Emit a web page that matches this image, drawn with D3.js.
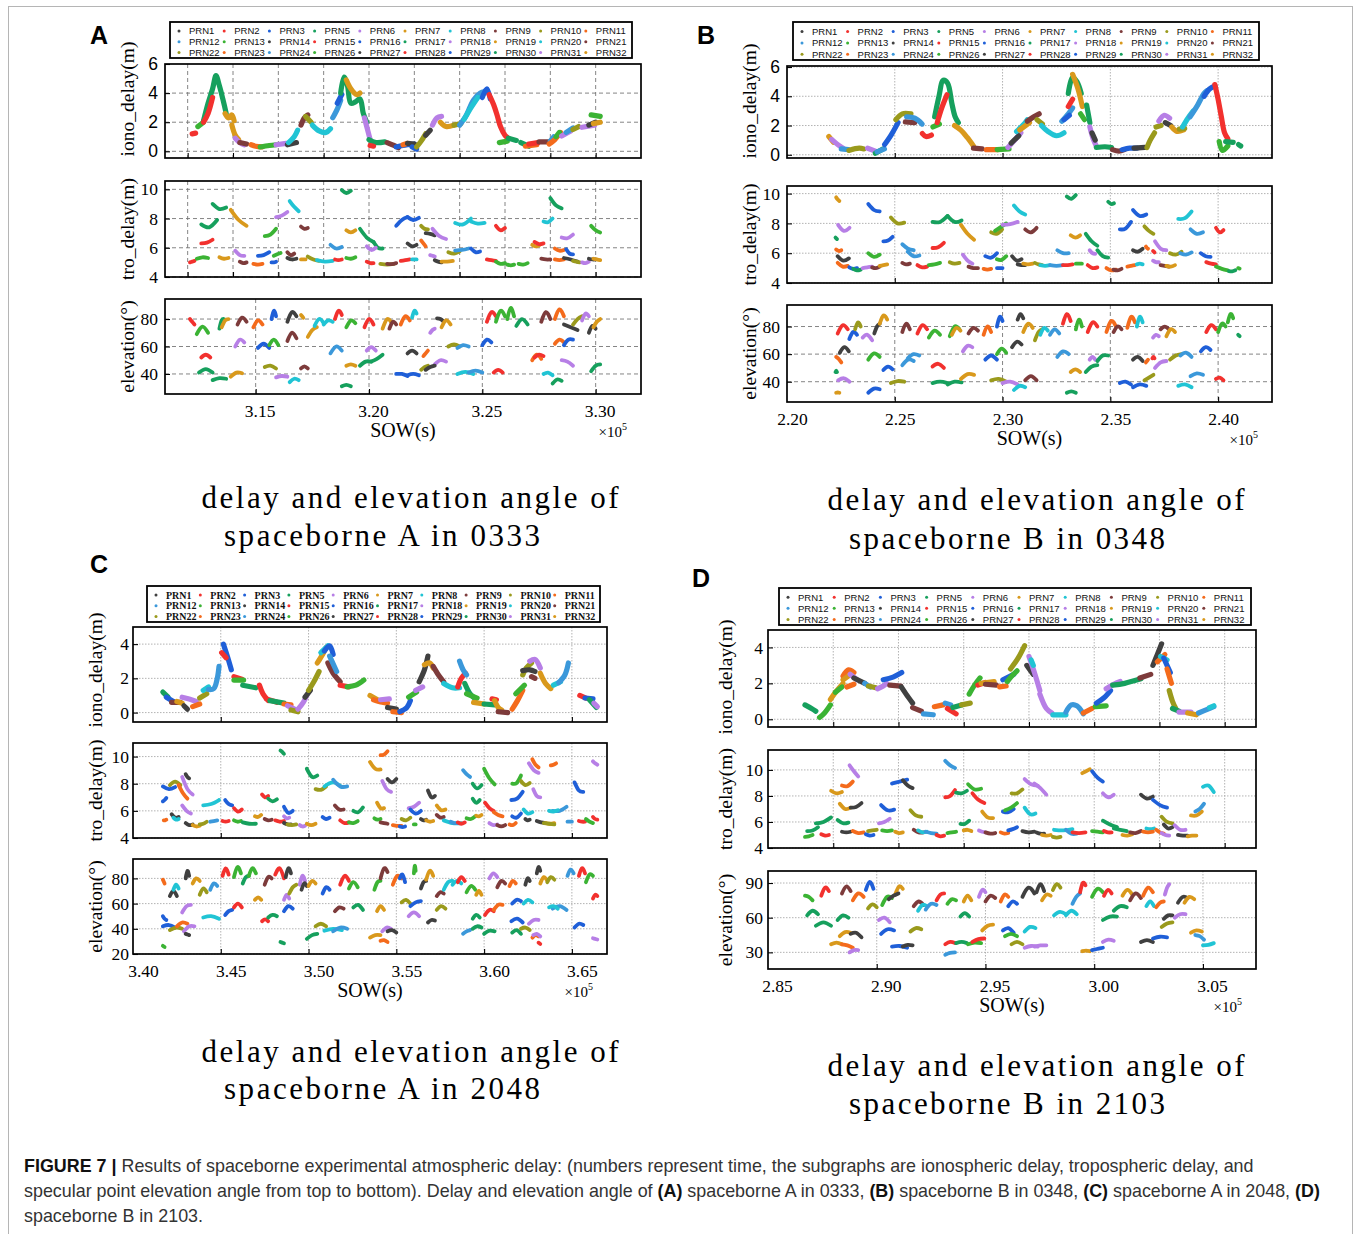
<!DOCTYPE html>
<html>
<head>
<meta charset="utf-8">
<script src="https://cdn.jsdelivr.net/npm/d3@7"></script>
<style>
  body { margin: 0; background: #fff; }
</style>
</head>
<body>
<div id="chart"></div>
<script>
// ---------- data (SOW in units of 1e5 s) ----------
const colors = ["#404040", "#f2312e", "#1f5fd8", "#16a05d", "#b77fe6", "#d9991c",
                "#21c4d4", "#7d3b3b", "#9a9a1c", "#f46b1c", "#3b98da", "#3bb334"];
const prnLabels = ["PRN1","PRN2","PRN3","PRN5","PRN6","PRN7","PRN8","PRN9","PRN10","PRN11",
                   "PRN12","PRN13","PRN14","PRN15","PRN16","PRN17","PRN18","PRN19","PRN20","PRN21",
                   "PRN22","PRN23","PRN24","PRN26","PRN27","PRN28","PRN29","PRN30","PRN31","PRN32"];

// iono: [colour, [[sow, delay], ...]]   tro / elev arcs: [colour, sowStart, sowEnd, vStart, vMid, vEnd]
const ionoA = [
  [1,[[3.122,1.2],[3.1235,1.25]]], [11,[[3.1245,1.7],[3.127,2.0]]],
  [3,[[3.127,2.1],[3.129,3.3],[3.131,4.3],[3.1325,5.2],[3.134,4.5],[3.1355,3.6],[3.137,2.6]]],
  [1,[[3.127,2.0],[3.129,2.6],[3.131,3.7]]], [5,[[3.1365,2.6],[3.138,2.3],[3.1395,2.5],[3.1405,2.1]]],
  [5,[[3.1395,1.8],[3.141,1.1],[3.1425,0.8]]], [4,[[3.141,0.9],[3.143,0.6],[3.145,0.45]]],
  [7,[[3.143,0.6],[3.146,0.5]]], [9,[[3.148,0.45],[3.150,0.35],[3.153,0.3]]],
  [11,[[3.152,0.3],[3.156,0.4],[3.159,0.45]]], [4,[[3.159,0.45],[3.1635,0.55]]],
  [0,[[3.164,0.45],[3.168,0.6]]], [6,[[3.1645,0.6],[3.167,1.0],[3.1685,1.45]]],
  [7,[[3.170,1.8],[3.1715,2.3],[3.173,2.5]]], [8,[[3.172,2.4],[3.1745,2.0]]],
  [6,[[3.175,1.8],[3.178,1.4],[3.181,1.3],[3.183,1.55]]], [10,[[3.184,2.3],[3.186,2.9],[3.1875,3.5]]],
  [2,[[3.186,3.3],[3.188,3.9]]],
  [3,[[3.1875,4.0],[3.189,5.1],[3.1905,4.5],[3.192,3.3],[3.194,3.4],[3.196,3.6],[3.1975,2.6],[3.199,2.0]]],
  [5,[[3.190,4.9],[3.192,4.3],[3.1945,3.9],[3.196,4.0]]], [4,[[3.198,2.3],[3.1995,1.4],[3.2005,0.8]]],
  [3,[[3.200,0.8],[3.203,0.6],[3.207,0.65]]], [1,[[3.2005,0.4],[3.202,0.35]]],
  [7,[[3.208,0.6],[3.211,0.4],[3.213,0.25]]], [2,[[3.212,0.3],[3.215,0.4],[3.220,0.5]]],
  [9,[[3.215,0.45],[3.217,0.55]]], [0,[[3.217,0.55],[3.220,0.5]]], [2,[[3.219,0.3],[3.221,0.15]]],
  [8,[[3.221,0.3],[3.223,0.7],[3.225,1.2]]], [0,[[3.225,1.1],[3.227,1.45]]],
  [4,[[3.228,1.8],[3.230,2.3],[3.232,2.4]]], [5,[[3.2315,2.0],[3.234,1.7],[3.2375,1.8]]],
  [8,[[3.2375,1.8],[3.2405,1.9]]], [10,[[3.240,1.8],[3.243,2.5],[3.246,3.5],[3.249,4.0],[3.251,4.1]]],
  [6,[[3.242,2.2],[3.245,3.0],[3.248,3.7]]], [2,[[3.250,3.7],[3.252,4.3],[3.2535,3.6]]],
  [1,[[3.253,3.9],[3.255,3.2],[3.2565,2.5],[3.258,1.7],[3.260,1.1],[3.2615,0.9]]],
  [11,[[3.2575,0.6],[3.261,0.7]]], [3,[[3.2615,0.9],[3.265,0.75]]], [3,[[3.267,0.6],[3.2705,0.35]]],
  [9,[[3.269,0.35],[3.274,0.45]]], [1,[[3.2705,0.5],[3.2745,0.6]]], [7,[[3.275,0.65],[3.2795,0.65]]],
  [10,[[3.280,0.7],[3.2815,1.0]]], [9,[[3.2795,0.5],[3.282,0.8],[3.2845,1.3]]],
  [11,[[3.2825,1.0],[3.284,1.3]]], [4,[[3.285,1.05],[3.289,1.4]]], [10,[[3.287,1.3],[3.290,1.6]]],
  [8,[[3.290,1.5],[3.2925,1.7]]], [4,[[3.294,1.65],[3.2995,1.8]]], [0,[[3.297,1.8],[3.300,2.0]]],
  [5,[[3.299,1.9],[3.302,2.0]]], [11,[[3.298,2.5],[3.302,2.4]]]
];
const troA = [
  [1,3.121,3.123,5.0,5.05,5.1],[11,3.124,3.129,5.25,5.35,5.3],[3,3.126,3.133,7.6,7.4,7.9],
  [1,3.126,3.131,6.3,6.35,6.55],[3,3.131,3.137,9.0,8.65,8.75],[5,3.134,3.138,5.35,5.25,5.3],
  [5,3.139,3.146,8.6,7.9,7.5],[4,3.141,3.145,5.8,5.5,5.45],[7,3.143,3.146,5.05,4.95,5.0],
  [9,3.149,3.153,4.9,4.85,4.9],[2,3.151,3.156,5.45,5.5,5.7],[11,3.154,3.159,6.8,6.9,7.3],
  [2,3.157,3.159,5.0,5.0,5.05],[11,3.158,3.161,5.45,5.55,5.65],[4,3.159,3.164,8.1,8.2,8.45],
  [6,3.165,3.169,9.2,8.8,8.5],[7,3.164,3.167,5.7,5.5,5.6],[0,3.164,3.168,5.3,5.2,5.25],
  [7,3.170,3.173,7.45,7.3,7.35],[5,3.170,3.172,5.2,5.2,5.2],[8,3.173,3.178,5.4,5.2,5.1],
  [6,3.177,3.184,5.15,5.05,5.1],[1,3.185,3.188,5.2,5.15,5.2],[10,3.183,3.188,6.2,5.95,6.05],
  [3,3.188,3.192,9.95,9.75,9.9],[5,3.190,3.194,7.2,7.05,7.2],[11,3.190,3.194,5.3,5.25,5.35],
  [3,3.196,3.202,7.3,6.7,6.4],[3,3.202,3.206,6.4,6.0,5.95],[4,3.199,3.203,6.1,5.85,6.0],
  [1,3.199,3.202,5.05,4.95,4.95],[8,3.205,3.211,4.9,4.85,4.9],[7,3.208,3.212,4.9,4.88,4.95],
  [1,3.214,3.218,5.1,5.15,5.2],[2,3.212,3.217,7.5,7.9,8.1],[2,3.217,3.222,8.1,7.9,8.05],
  [0,3.217,3.221,6.3,6.1,6.2],[6,3.219,3.221,5.2,5.2,5.2],[9,3.223,3.225,6.5,6.3,6.1],
  [8,3.223,3.226,7.5,7.3,7.25],[0,3.225,3.229,7.0,6.95,6.85],[4,3.228,3.234,7.3,6.8,6.6],
  [4,3.227,3.229,5.5,5.45,5.4],[0,3.229,3.232,5.15,5.05,5.0],[5,3.232,3.237,5.05,5.05,5.1],
  [8,3.235,3.240,5.7,5.6,5.75],[10,3.238,3.244,5.8,5.85,5.95],[6,3.238,3.245,7.7,7.6,8.0],
  [6,3.245,3.251,7.8,7.65,7.7],[2,3.245,3.249,5.95,5.7,5.75],[1,3.252,3.256,5.2,5.15,5.1],
  [1,3.256,3.260,7.5,7.2,7.35],[11,3.256,3.260,5.05,4.9,4.95],[11,3.261,3.264,4.85,4.8,4.85],
  [11,3.266,3.270,4.9,4.85,4.95],[5,3.272,3.275,6.2,6.1,6.15],[1,3.273,3.277,6.4,6.25,6.3],
  [7,3.276,3.280,5.25,5.2,5.2],[6,3.277,3.281,7.8,7.75,8.0],[3,3.280,3.285,9.4,8.9,8.7],
  [9,3.282,3.286,5.95,5.8,5.85],[9,3.282,3.286,5.2,5.15,5.2],[4,3.285,3.290,6.7,6.65,6.9],
  [2,3.287,3.290,5.9,5.6,5.55],[0,3.286,3.292,5.3,5.2,5.05],[8,3.290,3.293,5.1,5.05,5.0],
  [4,3.294,3.297,5.0,4.95,5.05],[0,3.297,3.300,5.25,5.2,5.2],[5,3.299,3.302,5.25,5.2,5.15],
  [11,3.298,3.302,7.5,7.2,7.05]
];
const elevA = [
  [1,3.121,3.123,80,78,76],[11,3.124,3.129,69,74.5,70],[1,3.126,3.130,52,54,52],
  [3,3.125,3.131,41,43.5,41],[3,3.131,3.137,35.5,37,36.5],[3,3.134,3.136,73,79,80],
  [5,3.135,3.138,74,79,80],[5,3.139,3.144,38,41,40.5],[7,3.142,3.146,76,81,78],
  [4,3.141,3.145,60,65,63],[9,3.149,3.153,74,79,76],[2,3.151,3.156,59,62,59],
  [2,3.157,3.159,80,86,82],[11,3.156,3.160,61,65,61],[8,3.154,3.159,45,46,44],
  [4,3.159,3.164,37.5,38.5,38],[6,3.165,3.169,34,36.5,35.5],[0,3.164,3.168,78,85,82],
  [5,3.170,3.171,83,82,81],[7,3.164,3.168,64,70,66],[7,3.170,3.173,44,45.5,44],
  [5,3.173,3.177,67,72,74],[6,3.176,3.180,75,80,77],[6,3.180,3.184,76,79,78],
  [10,3.183,3.188,55,60,57],[1,3.185,3.188,80,86,83],[3,3.188,3.192,31,32,31],
  [5,3.190,3.194,46,47,46],[11,3.190,3.194,74,79,77],[3,3.196,3.201,46,49,49],
  [3,3.201,3.206,49,51,54],[1,3.198,3.202,74,80,76],[4,3.199,3.203,57,59.5,57],
  [5,3.206,3.210,73,80,77],[7,3.209,3.212,73,78,76],[9,3.214,3.218,76,82,79],
  [2,3.212,3.217,40,40,38.5],[2,3.217,3.222,39,40,39],[6,3.219,3.221,81,86,84],
  [0,3.217,3.221,55,57,55],[9,3.224,3.226,53,55,57],[8,3.223,3.226,43,45,46],
  [4,3.227,3.229,70,72,73],[0,3.230,3.233,80.5,80,78],[5,3.232,3.236,74,79,76],
  [4,3.229,3.234,47,50,49],[0,3.225,3.229,43,45,46],[8,3.235,3.240,60,61.5,60],
  [10,3.239,3.244,59,61,60],[6,3.239,3.246,40,41.5,40],[10,3.244,3.250,41,42.5,41],
  [2,3.250,3.254,61,65,63],[1,3.252,3.256,78,85,82],[1,3.255,3.259,41,43,41],
  [11,3.256,3.260,78,86,82],[11,3.261,3.264,80,88,82],[3,3.265,3.270,75,80,76],
  [9,3.272,3.276,50,54,51],[1,3.273,3.277,52,54,53],[7,3.276,3.280,78,85,80],
  [6,3.277,3.281,40,41,39],[3,3.281,3.285,33,36,35],[9,3.282,3.286,80,87,82],
  [9,3.282,3.286,62,65,63],[2,3.286,3.290,61,65,65],[4,3.285,3.290,50,49,46],
  [0,3.286,3.292,76,74,72],[8,3.290,3.294,76,80,82],[4,3.294,3.297,79,84,82],
  [0,3.297,3.300,70,75,73],[5,3.299,3.302,74,78,80],[3,3.298,3.302,42,46,47]
];

const ionoB = [
  [5,[[2.2194,1.25],[2.2216,0.85]]], [4,[[2.2207,1.05],[2.2235,0.7],[2.226,0.45]]],
  [10,[[2.2252,0.4],[2.2285,0.35]]], [8,[[2.2287,0.3],[2.2335,0.45],[2.2357,0.4]]],
  [4,[[2.2374,0.45],[2.241,0.25]]], [3,[[2.241,0.1],[2.2445,0.4]]], [10,[[2.2418,0.2],[2.2452,0.4]]],
  [2,[[2.2453,0.7],[2.2485,1.4],[2.2515,2.2]]], [8,[[2.2505,2.4],[2.2535,2.8],[2.2575,2.8]]],
  [7,[[2.2549,2.25],[2.2593,2.2]]], [10,[[2.2555,2.6],[2.2593,2.5],[2.2627,2.1]]],
  [1,[[2.2628,1.45],[2.2645,1.25],[2.267,1.35]]], [11,[[2.2677,1.9],[2.2707,2.1]]],
  [3,[[2.2685,2.6],[2.2705,4.0],[2.2725,5.1],[2.2745,4.9],[2.2765,3.5],[2.278,2.6],[2.2795,2.2]]],
  [1,[[2.2697,2.2],[2.2718,3.2],[2.2742,4.1]]],
  [5,[[2.2777,2.0],[2.2805,1.7],[2.2835,1.2],[2.2865,0.6]]], [7,[[2.2865,0.45],[2.2905,0.4]]],
  [9,[[2.2925,0.35],[2.2975,0.35]]], [11,[[2.2975,0.35],[2.303,0.4]]],
  [4,[[2.3025,0.5],[2.305,0.9],[2.3085,1.5]]], [0,[[2.304,0.8],[2.3075,1.3]]],
  [6,[[2.3065,1.6],[2.31,2.1],[2.3115,2.4]]], [5,[[2.308,1.7],[2.3125,2.2]]],
  [7,[[2.3115,2.3],[2.3145,2.6],[2.317,2.8]]], [8,[[2.316,2.4],[2.3185,2.1]]],
  [6,[[2.318,2.0],[2.321,1.6],[2.325,1.3],[2.3285,1.5]]], [10,[[2.3275,2.3],[2.3305,2.8],[2.3325,3.2]]],
  [2,[[2.3285,2.4],[2.331,2.7]]], [1,[[2.3305,3.3],[2.3325,3.8]]],
  [3,[[2.3305,4.2],[2.3325,5.3],[2.3345,5.0],[2.3365,4.2]]], [5,[[2.3325,5.5],[2.335,4.5],[2.337,3.3]]],
  [11,[[2.3362,2.8],[2.338,2.4]]], [3,[[2.339,3.4],[2.3405,2.2]]],
  [4,[[2.3405,1.9],[2.342,1.1],[2.3435,0.6]]], [0,[[2.3415,1.5],[2.343,1.0]]],
  [3,[[2.3435,0.5],[2.3475,0.55],[2.3505,0.5]]], [7,[[2.351,0.35],[2.354,0.25],[2.3565,0.35]]],
  [2,[[2.3555,0.35],[2.359,0.45],[2.3625,0.45]]], [0,[[2.361,0.45],[2.366,0.5]]],
  [8,[[2.367,0.5],[2.3685,1.0],[2.3705,1.5]]], [8,[[2.3712,1.9],[2.3735,2.0]]],
  [4,[[2.3725,2.3],[2.375,2.7],[2.3775,2.5]]], [0,[[2.3755,2.2],[2.378,2.0]]],
  [5,[[2.3785,1.9],[2.381,1.6],[2.384,1.7]]], [8,[[2.382,1.75],[2.3845,1.8]]],
  [6,[[2.3835,1.9],[2.386,2.5],[2.3885,3.0]]], [10,[[2.387,2.6],[2.3905,3.4],[2.3935,4.2],[2.395,4.4]]],
  [2,[[2.3935,4.0],[2.396,4.5],[2.3985,4.7]]],
  [1,[[2.3985,4.8],[2.400,3.8],[2.4015,2.6],[2.403,1.5],[2.4045,1.1]]],
  [11,[[2.4005,0.9],[2.402,0.3],[2.4045,0.6]]], [3,[[2.4035,0.9],[2.407,0.85]]],
  [3,[[2.4095,0.7],[2.4105,0.6]]]
];
const troB = [
  [5,2.2228,2.2243,9.75,9.6,9.5],[4,2.2237,2.229,7.9,7.5,7.7],[3,2.2225,2.2232,7.05,7.0,6.95],
  [9,2.2228,2.2252,6.25,6.15,6.2],[0,2.2235,2.2287,5.8,5.5,5.65],[9,2.2235,2.2282,5.35,5.1,5.15],
  [2,2.2289,2.2325,5.05,4.95,5.0],[3,2.2307,2.2342,4.95,4.85,4.9],[4,2.2351,2.2395,5.0,5.05,5.1],
  [7,2.2395,2.243,5.05,5.0,5.1],[5,2.243,2.2465,5.15,5.2,5.25],[2,2.2377,2.243,9.3,8.9,8.8],
  [11,2.2377,2.243,6.0,5.75,5.9],[2,2.2447,2.249,6.8,6.85,7.1],[8,2.2482,2.2544,8.4,8.0,8.05],
  [10,2.2535,2.2588,6.6,6.3,6.2],[10,2.256,2.2614,6.1,5.8,5.85],[7,2.2535,2.257,5.35,5.25,5.3],
  [1,2.2605,2.265,5.2,5.05,5.1],[11,2.2658,2.271,5.2,5.25,5.35],[1,2.2675,2.2728,6.35,6.4,6.7],
  [3,2.2675,2.2745,8.1,8.1,8.5],[3,2.2745,2.281,8.5,8.1,8.2],[8,2.2755,2.280,5.4,5.3,5.35],
  [5,2.2807,2.2868,7.9,7.3,6.9],[4,2.2816,2.286,5.9,5.5,5.3],[7,2.2842,2.2886,5.1,5.0,5.0],
  [9,2.2912,2.2947,4.95,4.9,4.95],[2,2.292,2.2974,5.8,5.7,6.0],[2,2.2974,2.300,5.0,5.0,5.0],
  [8,2.2947,2.2998,7.4,7.3,7.6],[11,2.2965,2.3017,7.5,7.75,8.0],[11,2.2974,2.3017,5.6,5.55,5.8],
  [4,2.300,2.307,7.9,7.95,8.1],[6,2.3053,2.3105,9.2,8.8,8.6],[0,2.3044,2.3088,5.8,5.5,5.6],
  [0,2.307,2.3105,5.25,5.2,5.2],[5,2.3096,2.314,5.3,5.25,5.3],[7,2.3105,2.3158,7.6,7.4,7.7],
  [8,2.315,2.3184,5.35,5.25,5.2],[6,2.3175,2.322,5.2,5.15,5.2],[10,2.322,2.328,5.2,5.15,5.2],
  [10,2.3254,2.3307,6.2,6.0,6.0],[1,2.328,2.3325,5.2,5.2,5.25],[3,2.3298,2.334,9.8,9.65,9.9],
  [5,2.3316,2.336,7.2,7.05,7.2],[11,2.334,2.3368,5.3,5.3,5.3],[3,2.3386,2.344,7.3,6.8,6.5],
  [4,2.3404,2.343,6.2,6.0,5.95],[3,2.344,2.349,6.2,5.8,5.7],[1,2.3395,2.344,5.2,5.0,5.05],
  [9,2.3482,2.3526,5.0,4.85,4.9],[7,2.3515,2.3552,4.9,4.85,4.95],[3,2.349,2.3517,9.45,9.3,9.35],
  [2,2.3544,2.3596,7.6,7.65,8.1],[2,2.3605,2.3667,8.9,8.5,8.6],[9,2.3579,2.3614,5.1,5.15,5.2],
  [6,2.3623,2.365,5.25,5.3,5.25],[0,2.3605,2.365,6.2,6.1,6.3],[9,2.3665,2.3675,6.45,6.35,6.3],
  [1,2.3698,2.3705,6.15,6.1,6.05],[8,2.3658,2.370,7.8,7.5,7.3],[4,2.3707,2.376,6.8,6.3,6.2],
  [4,2.3698,2.3725,5.5,5.4,5.4],[7,2.3733,2.3772,5.2,5.15,5.1],[5,2.376,2.380,5.15,5.1,5.2],
  [8,2.3777,2.383,6.0,5.9,6.1],[10,2.3825,2.3877,6.0,5.9,6.05],[6,2.3815,2.3877,8.3,8.35,8.8],
  [10,2.3872,2.393,7.6,7.3,7.4],[2,2.392,2.3965,6.0,5.8,5.75],[1,2.3945,2.399,5.4,5.3,5.25],
  [1,2.399,2.4025,7.7,7.4,7.55],[11,2.399,2.4045,5.1,4.95,4.85],[3,2.405,2.408,4.8,4.78,4.85],
  [11,2.4093,2.410,5.0,4.98,4.97]
];
const elevB = [
  [5,2.2228,2.2243,32,32.2,32],[4,2.2237,2.229,41,42.5,40],[3,2.2225,2.2232,47,48,47],
  [9,2.2228,2.2252,58,56.5,54],[0,2.2245,2.2287,61,65,62],[1,2.2235,2.2282,75,81,78],
  [2,2.2289,2.2325,71,76,74],[8,2.2316,2.2342,78,83,80],[4,2.2351,2.2395,72,74,70],
  [2,2.2377,2.243,32,35,34.5],[11,2.2377,2.243,56,60.5,58],[0,2.2405,2.243,75,80,82],
  [5,2.243,2.2465,82,88,85],[2,2.2447,2.249,48.5,51,49],[8,2.2482,2.2544,39,40.5,40],
  [7,2.2535,2.257,76,82,78],[10,2.2535,2.2588,52,56,55],[10,2.256,2.2614,57,60,59],
  [1,2.2605,2.265,75,81,78],[1,2.2675,2.2728,51,53,50],[11,2.2658,2.271,72,77,74],
  [3,2.2675,2.2745,39,40,39],[3,2.2745,2.281,38,40,39.5],[11,2.2755,2.280,73,80,78],
  [5,2.2765,2.2805,74,79,77],[5,2.2807,2.2868,42,45.5,45],[4,2.2816,2.286,62,66,65],
  [7,2.2842,2.2886,75,79,77],[9,2.2912,2.2947,74,80,76],[2,2.292,2.2974,56,59,56],
  [2,2.2974,2.300,80,87,84],[8,2.2947,2.3017,41,42,40],[11,2.2974,2.3017,60,64,61],
  [4,2.300,2.307,39,40,38],[6,2.3053,2.3105,34,37,36],[0,2.3044,2.3088,65,69,67],
  [0,2.307,2.3096,85,89,86],[5,2.3096,2.314,76,82,79],[7,2.3105,2.3158,41,44,41],
  [8,2.315,2.3184,70,76,78],[6,2.3175,2.321,74,79,77],[10,2.322,2.3263,74,78,75],
  [10,2.3254,2.3307,58,62,60],[1,2.328,2.3316,82,89,84],[3,2.3298,2.334,32,33,32],
  [5,2.3316,2.336,47,49,47],[11,2.334,2.3368,78,85,80],[3,2.3386,2.344,47,51,52],
  [4,2.3404,2.343,56,58,56],[3,2.344,2.349,55,59,59],[1,2.3395,2.344,76,83,80],
  [9,2.3482,2.3526,76,84,80],[7,2.3515,2.3552,76,80,78],[2,2.3544,2.3596,39,40,38],
  [2,2.3605,2.3667,36,38,37],[9,2.3579,2.3614,79,87,83],[6,2.3623,2.365,80,87,83],
  [0,2.3605,2.365,56,58,55],[9,2.3665,2.3675,54,55,56],[1,2.3695,2.3705,57,58,57],
  [8,2.3658,2.370,41,43,45],[4,2.3698,2.3725,72,74,73],[4,2.3707,2.376,50,54,55],
  [7,2.3733,2.3772,78,80,78],[5,2.376,2.380,73,78,76],[8,2.3777,2.383,56,59,60],
  [10,2.3825,2.3877,59,61,58],[6,2.3815,2.3877,37,38,36],[10,2.3872,2.393,44,46,45],
  [2,2.392,2.3965,62,65,63],[1,2.3945,2.399,76,81,78],[1,2.399,2.4025,42,43,41],
  [11,2.400,2.4035,76,82,80],[11,2.4045,2.407,83,89,86],[3,2.4093,2.410,74,73.5,73]
];

const ionoC = [
  [3,[[3.417,1.2],[3.420,0.9]]], [2,[[3.419,0.9],[3.423,0.65]]], [7,[[3.422,0.6],[3.427,0.6]]],
  [5,[[3.425,0.65],[3.428,0.55]]], [4,[[3.428,0.9],[3.432,0.8],[3.436,0.65]]],
  [0,[[3.429,0.4],[3.431,0.2]]], [9,[[3.434,0.35],[3.438,0.5]]], [8,[[3.438,0.85],[3.442,1.1]]],
  [6,[[3.440,1.3],[3.443,1.5]]], [10,[[3.443,1.35],[3.446,1.4],[3.448,2.0],[3.449,2.7]]],
  [2,[[3.4515,4.0],[3.454,3.2],[3.456,2.5]]], [1,[[3.4505,3.5],[3.453,3.2]]],
  [1,[[3.4575,2.1],[3.462,1.95]]], [11,[[3.4575,1.9],[3.463,1.9]]], [3,[[3.4625,1.6],[3.470,1.45]]],
  [1,[[3.472,1.6],[3.474,1.1],[3.477,0.7]]], [1,[[3.476,0.8],[3.482,0.6]]],
  [3,[[3.478,0.7],[3.486,0.55]]], [9,[[3.486,0.5],[3.490,0.45]]], [4,[[3.488,0.4],[3.492,0.2]]],
  [8,[[3.490,0.15],[3.494,0.05]]], [4,[[3.494,0.2],[3.497,0.6],[3.499,1.0]]],
  [0,[[3.498,0.9],[3.501,1.3]]], [8,[[3.500,1.3],[3.503,1.8],[3.506,2.4]]],
  [5,[[3.505,2.9],[3.508,3.4],[3.510,3.8]]], [6,[[3.507,3.5],[3.511,3.9]]],
  [2,[[3.509,3.6],[3.512,3.9],[3.514,3.4]]], [7,[[3.511,2.9],[3.514,2.3],[3.518,1.8]]],
  [10,[[3.512,3.3],[3.516,2.4]]], [1,[[3.518,1.6],[3.523,1.5]]],
  [11,[[3.522,1.5],[3.527,1.6],[3.5315,1.9]]], [5,[[3.535,1.0],[3.540,0.7]]],
  [9,[[3.537,0.75],[3.542,0.6],[3.545,0.55]]], [4,[[3.541,0.75],[3.546,0.8]]],
  [0,[[3.545,0.3],[3.550,0.2]]], [9,[[3.548,0.05],[3.553,0.0]]],
  [2,[[3.552,0.05],[3.556,0.3],[3.558,0.7]]], [11,[[3.557,0.9],[3.5615,1.2]]],
  [4,[[3.561,1.3],[3.565,1.5]]], [0,[[3.563,1.8],[3.566,2.5],[3.568,3.3]]],
  [5,[[3.566,2.8],[3.569,2.9],[3.571,2.6]]], [7,[[3.571,2.7],[3.574,2.2],[3.577,1.8]]],
  [6,[[3.577,1.7],[3.582,1.45],[3.586,1.45]]], [1,[[3.585,1.5],[3.587,2.0],[3.5895,2.3]]],
  [10,[[3.586,3.0],[3.588,2.5],[3.590,2.2]]], [3,[[3.589,1.7],[3.592,1.1],[3.595,0.8]]],
  [11,[[3.590,1.1],[3.596,0.85]]], [5,[[3.594,0.6],[3.600,0.5]]], [3,[[3.600,0.5],[3.606,0.45]]],
  [1,[[3.6045,0.8],[3.607,0.75]]], [5,[[3.606,0.7],[3.608,0.3],[3.610,0.15]]],
  [7,[[3.608,0.05],[3.6135,0.0]]], [9,[[3.616,0.2],[3.619,0.7],[3.622,1.3]]],
  [11,[[3.618,1.1],[3.623,1.6]]], [8,[[3.622,2.2],[3.624,2.6],[3.627,2.9]]],
  [0,[[3.622,2.45],[3.626,2.5],[3.629,2.4]]], [4,[[3.626,3.0],[3.629,3.1],[3.632,2.6]]],
  [7,[[3.627,2.1],[3.629,2.0]]], [5,[[3.632,2.3],[3.635,1.7],[3.638,1.4]]],
  [6,[[3.6395,1.6],[3.6435,1.8]]], [10,[[3.6425,1.75],[3.646,2.2],[3.648,2.9]]],
  [1,[[3.6545,1.0],[3.658,0.85]]], [2,[[3.6575,0.85],[3.662,0.8]]], [3,[[3.660,0.75],[3.664,0.3]]],
  [4,[[3.6625,0.55],[3.6645,0.35]]]
];
const troC = [
  [9,3.4175,3.419,5.3,5.3,5.35],[2,3.417,3.419,6.7,6.8,6.95],[2,3.417,3.424,7.8,7.6,7.75],
  [0,3.422,3.426,5.75,5.5,5.55],[6,3.423,3.426,5.5,5.35,5.4],[8,3.421,3.427,7.9,8.15,7.9],
  [9,3.426,3.431,7.9,7.3,6.9],[4,3.428,3.434,8.5,7.6,7.2],[4,3.428,3.433,6.4,6.0,5.8],
  [0,3.430,3.432,8.7,8.5,8.4],[0,3.430,3.434,5.1,4.95,5.0],[5,3.434,3.438,4.95,4.85,4.9],
  [8,3.438,3.442,5.0,5.05,5.2],[6,3.440,3.449,6.4,6.5,6.8],[10,3.444,3.448,5.2,5.25,5.3],
  [2,3.4525,3.4565,6.8,6.5,6.4],[1,3.4575,3.462,6.2,5.95,6.1],[1,3.451,3.4545,5.25,5.2,5.25],
  [11,3.4575,3.4615,5.3,5.2,5.25],[3,3.4625,3.470,5.15,5.05,5.05],[5,3.4695,3.473,5.6,5.55,5.7],
  [1,3.4735,3.477,7.2,7.0,7.1],[3,3.477,3.482,6.9,6.7,6.85],[7,3.475,3.479,5.4,5.3,5.35],
  [1,3.481,3.486,5.3,5.2,5.25],[3,3.484,3.486,10.45,10.35,10.2],[4,3.486,3.489,5.6,5.45,5.5],
  [2,3.486,3.491,6.3,5.85,6.0],[0,3.486,3.490,5.1,5.0,5.0],[8,3.488,3.493,5.0,4.95,5.0],
  [4,3.495,3.498,4.95,4.85,4.9],[5,3.499,3.504,5.05,4.95,5.05],[3,3.499,3.505,9.1,8.5,8.6],
  [8,3.504,3.510,7.6,7.55,7.8],[6,3.509,3.519,7.8,8.1,7.75],[10,3.514,3.522,8.3,7.8,7.8],
  [2,3.508,3.512,5.55,5.4,5.5],[7,3.515,3.520,6.4,6.1,6.1],[1,3.518,3.523,5.3,5.1,5.15],
  [11,3.523,3.528,5.15,5.1,5.25],[3,3.5255,3.531,6.0,5.9,6.25],[11,3.5375,3.541,5.45,5.35,5.4],
  [5,3.535,3.541,9.6,9.1,9.05],[9,3.541,3.545,10.1,10.15,10.4],[5,3.539,3.543,6.6,6.2,6.2],
  [4,3.542,3.547,8.2,7.6,7.4],[0,3.545,3.550,8.35,8.1,8.35],[7,3.541,3.545,5.15,5.1,5.05],
  [9,3.548,3.553,4.95,4.9,4.9],[2,3.552,3.555,4.85,4.8,4.85],[8,3.553,3.558,5.4,5.3,5.5],
  [11,3.560,3.561,5.0,5.0,5.0],[4,3.557,3.563,6.2,6.3,6.6],[2,3.558,3.564,6.1,5.8,6.0],
  [0,3.564,3.567,5.4,5.3,5.35],[0,3.568,3.572,7.5,7.0,7.1],[5,3.567,3.571,5.3,5.2,5.25],
  [5,3.573,3.578,6.4,6.05,6.1],[7,3.573,3.577,5.7,5.5,5.55],[6,3.577,3.587,5.3,5.1,5.1],
  [10,3.581,3.585,5.2,5.1,5.1],[1,3.585,3.589,5.15,5.05,5.15],[10,3.588,3.592,9.0,8.7,8.5],
  [11,3.590,3.595,5.45,5.4,5.6],[3,3.5935,3.5975,6.9,6.6,6.8],[3,3.5935,3.5985,8.0,7.65,7.9],
  [5,3.5955,3.5985,5.65,5.6,5.7],[11,3.600,3.606,9.1,8.4,7.95],[1,3.6005,3.6055,6.6,6.2,6.0],
  [9,3.6055,3.6105,5.9,5.7,5.6],[4,3.603,3.6075,5.1,4.95,5.0],[7,3.6075,3.612,4.95,4.85,4.95],
  [9,3.6145,3.618,5.0,4.95,5.1],[2,3.6155,3.622,6.8,6.9,7.4],[2,3.616,3.621,5.6,5.5,5.8],
  [11,3.616,3.621,8.0,8.05,8.6],[8,3.621,3.626,8.2,7.9,8.05],[6,3.6225,3.6275,6.1,5.8,5.9],
  [0,3.6235,3.626,5.4,5.3,5.35],[9,3.6275,3.631,9.8,9.4,9.2],[4,3.6255,3.631,9.5,9.0,8.8],
  [4,3.628,3.632,7.6,7.1,7.0],[0,3.630,3.635,5.25,5.15,5.1],[5,3.635,3.640,5.1,5.05,5.1],
  [8,3.634,3.640,5.1,5.05,5.0],[9,3.638,3.641,9.35,9.4,9.5],[10,3.639,3.647,6.0,6.0,6.3],
  [6,3.637,3.642,6.0,5.95,6.05],[10,3.6475,3.650,5.2,5.2,5.2],[2,3.6515,3.6565,8.1,7.5,7.4],
  [1,3.654,3.6575,5.25,5.2,5.2],[11,3.658,3.662,5.4,5.2,5.1],[4,3.662,3.6645,9.65,9.5,9.4],
  [1,3.662,3.6645,5.55,5.4,5.35]
];
const elevC = [
  [9,3.417,3.418,79,77.5,76],[11,3.417,3.418,26.5,26,25.5],[2,3.417,3.419,50,48,47],
  [2,3.417,3.424,42,43,41],[0,3.421,3.425,66,70,66],[6,3.423,3.426,71,75,72],
  [8,3.421,3.428,39,41,40],[9,3.425,3.431,42,45,44],[4,3.428,3.433,53,58,59],
  [4,3.429,3.435,38,42,42],[0,3.430,3.432,80,86,82],[0,3.430,3.432,36,35.5,35],
  [5,3.434,3.438,76,80,78],[8,3.438,3.442,67,72,69],[6,3.440,3.449,49,50,48],
  [10,3.444,3.448,71,76,74],[1,3.451,3.4545,82,88,83],[2,3.4525,3.4565,51,54,55],
  [1,3.4575,3.462,57,60,57],[11,3.4575,3.4615,81,89,84],[3,3.4625,3.466,76,81,82],
  [11,3.466,3.470,82,88,84],[5,3.4695,3.473,63,65,63],[1,3.4735,3.477,46,47.5,46],
  [3,3.477,3.482,49,51,50],[7,3.475,3.479,75,81,80],[1,3.481,3.486,83,88,80],
  [3,3.484,3.486,29.5,29,28.5],[4,3.486,3.489,63,67,64],[2,3.486,3.491,54,58,56],
  [0,3.487,3.490,81,88,84],[8,3.489,3.493,68,73,75],[4,3.495,3.498,75,82,78],
  [0,3.496,3.499,71,76,74],[5,3.500,3.504,74,78,76],[3,3.499,3.505,32,35,36],
  [8,3.504,3.510,42,44,42],[6,3.509,3.519,38.5,40,39],[10,3.514,3.522,38,41,40],
  [2,3.508,3.512,68,73,71],[7,3.515,3.520,54,57,56],[1,3.518,3.523,75,82,78],
  [11,3.523,3.528,72,77,73],[3,3.5255,3.531,57,59,55],[11,3.5375,3.541,71,77,78],
  [5,3.535,3.541,33,35,35],[9,3.541,3.545,30.5,31,29.5],[5,3.539,3.543,54,58,55],
  [4,3.542,3.547,38,41,40],[0,3.545,3.550,38,39,37],[7,3.541,3.545,80,88,85],
  [9,3.548,3.553,75,82,80],[2,3.552,3.555,80,83,77],[8,3.553,3.558,61,63,60],
  [11,3.560,3.561,84,90,86],[4,3.557,3.563,50,53,50],[2,3.558,3.564,58,61,62],
  [0,3.564,3.567,72,77,78],[5,3.567,3.571,79,86,82],[0,3.568,3.572,45,47,46.5],
  [7,3.573,3.577,66,69,68],[8,3.573,3.578,55,58,56],[6,3.577,3.582,71,77,78],
  [6,3.582,3.587,75,78,76],[1,3.585,3.589,77,81,78],[10,3.588,3.592,36,38,39],
  [11,3.590,3.595,69,74,71],[3,3.5935,3.5975,48,51,49],[3,3.5935,3.5985,40,42,41],
  [5,3.5955,3.5985,67,70,67],[3,3.600,3.606,36,38.5,38],[1,3.6005,3.6055,51,55,54],
  [9,3.6055,3.6105,55,59,59],[4,3.603,3.6075,80,84,81],[7,3.6075,3.612,73,78,76],
  [9,3.6145,3.618,74,78,76],[2,3.6155,3.622,46,48,45],[2,3.616,3.621,60,63,62],
  [3,3.616,3.621,37,39,36],[8,3.621,3.626,40,41,39],[6,3.6225,3.6275,60,63,61],
  [0,3.6235,3.626,75,80,78],[9,3.6275,3.631,33,35,34],[4,3.6255,3.631,44,47,47],
  [4,3.628,3.632,35,36,34],[0,3.630,3.632,84,89,86],[5,3.632,3.636,76,81,78],
  [8,3.636,3.640,77,81,79],[1,3.631,3.632,29,28.5,28],[10,3.639,3.647,56,58,55],
  [6,3.637,3.642,57,58,56],[10,3.6475,3.651,82,87,84],[2,3.6515,3.6565,41,44,43],
  [1,3.654,3.6575,82,88,84],[11,3.658,3.662,77,83,82],[1,3.662,3.6645,64,67,66],
  [4,3.662,3.6645,32.5,32,31.5]
];

const ionoD = [
  [3,[[2.867,0.8],[2.870,0.6],[2.872,0.45]]], [11,[[2.8737,0.1],[2.876,0.35],[2.8787,0.8]]],
  [5,[[2.8787,1.1],[2.881,1.5],[2.8845,2.0]]], [11,[[2.881,1.5],[2.884,1.8]]],
  [9,[[2.8845,2.4],[2.887,2.75],[2.8895,2.6]]], [5,[[2.8845,2.2],[2.888,2.5]]],
  [9,[[2.8862,1.8],[2.8895,1.95]]], [4,[[2.8878,2.5],[2.891,2.2]]], [0,[[2.8895,2.3],[2.8945,2.0]]],
  [10,[[2.8945,2.0],[2.897,1.8]]], [8,[[2.8962,1.85],[2.8996,1.75]]],
  [4,[[2.9004,1.7],[2.903,1.85],[2.9046,2.0]]], [2,[[2.903,2.2],[2.9075,2.35],[2.9115,2.6]]],
  [7,[[2.906,1.9],[2.911,1.85]]], [0,[[2.9113,1.8],[2.9135,1.4],[2.9165,0.9]]],
  [7,[[2.9165,0.65],[2.9205,0.45]]], [10,[[2.9215,0.3],[2.926,0.25]]], [9,[[2.9265,0.7],[2.9305,0.8]]],
  [10,[[2.9315,0.9],[2.934,0.8]]], [1,[[2.9325,0.6],[2.9365,0.3]]], [3,[[2.935,0.65],[2.939,0.8]]],
  [8,[[2.939,0.8],[2.943,0.9]]], [11,[[2.9425,1.4],[2.945,1.9],[2.9475,2.3]]],
  [1,[[2.9465,1.9],[2.950,2.05]]], [5,[[2.948,2.0],[2.954,2.1]]], [7,[[2.950,1.95],[2.955,1.9]]],
  [9,[[2.9565,1.8],[2.9595,1.85]]], [2,[[2.958,2.2],[2.963,2.5]]], [11,[[2.960,2.1],[2.962,2.4],[2.9645,2.7]]],
  [8,[[2.9615,2.8],[2.965,3.4],[2.968,4.1]]], [0,[[2.969,3.0],[2.972,2.5]]],
  [4,[[2.970,3.5],[2.9725,2.6],[2.975,1.6]]], [6,[[2.971,3.3],[2.972,3.0]]],
  [4,[[2.975,1.4],[2.978,0.6],[2.9805,0.35]]], [6,[[2.981,0.25],[2.987,0.25]]],
  [10,[[2.987,0.4],[2.9895,0.8],[2.992,0.75],[2.995,0.3]]], [9,[[2.995,0.35],[2.999,0.6]]],
  [11,[[3.0005,0.7],[3.0055,0.75]]], [2,[[3.001,0.9],[3.0045,1.2],[3.0075,1.6]]],
  [4,[[3.0055,1.7],[3.009,1.95],[3.012,2.1]]], [3,[[3.0085,1.9],[3.014,2.0],[3.0215,2.25]]],
  [7,[[3.021,2.3],[3.026,2.5]]], [0,[[3.027,3.0],[3.029,3.6],[3.031,4.2]]],
  [9,[[3.029,3.2],[3.0325,3.6]]], [6,[[3.0305,3.5],[3.0335,3.3]]], [2,[[3.032,3.4],[3.035,2.6]]],
  [9,[[3.0335,2.8],[3.0355,2.0]]], [8,[[3.0345,1.6],[3.036,1.0],[3.0375,0.6]]],
  [3,[[3.036,0.6],[3.039,0.45]]], [4,[[3.039,0.4],[3.0445,0.4]]], [5,[[3.043,0.35],[3.047,0.25]]],
  [10,[[3.048,0.35],[3.052,0.55],[3.055,0.7]]], [6,[[3.053,0.65],[3.055,0.75]]]
];
const troD = [
  [11,2.867,2.8705,4.85,4.9,5.0],[3,2.868,2.873,5.3,5.35,5.6],[3,2.872,2.879,5.9,6.0,6.35],
  [1,2.8745,2.878,5.05,4.95,5.0],[5,2.879,2.884,8.4,8.2,8.3],[9,2.884,2.889,8.8,8.75,9.1],
  [4,2.8875,2.8915,10.35,9.9,9.5],[5,2.883,2.888,7.4,7.0,7.1],[0,2.888,2.893,7.1,7.15,7.45],
  [3,2.882,2.887,6.15,5.9,5.95],[0,2.884,2.888,5.25,5.2,5.25],[9,2.889,2.894,5.3,5.15,5.2],
  [2,2.895,2.8985,5.05,4.95,5.0],[8,2.896,2.900,5.3,5.35,5.4],[2,2.902,2.908,7.3,6.9,6.95],
  [4,2.901,2.906,5.9,6.0,6.25],[11,2.9025,2.907,5.35,5.3,5.35],[5,2.9085,2.912,5.25,5.15,5.2],
  [2,2.907,2.914,8.95,9.1,9.25],[0,2.912,2.9165,9.2,8.8,8.6],[8,2.9155,2.9205,6.9,6.5,6.4],
  [7,2.917,2.9215,5.4,5.2,5.2],[6,2.919,2.923,5.35,5.2,5.25],[10,2.9225,2.9275,5.25,5.15,5.1],
  [1,2.9275,2.931,5.0,4.9,4.95],[10,2.9315,2.936,10.7,10.35,10.15],[1,2.9315,2.936,7.9,8.0,8.45],
  [11,2.9325,2.9365,5.15,5.2,5.25],[3,2.9365,2.9415,8.25,8.2,8.4],[11,2.942,2.948,8.9,8.5,8.55],
  [1,2.944,2.9495,8.2,7.7,7.45],[3,2.9385,2.9425,5.85,5.85,6.1],[5,2.940,2.9435,5.35,5.4,5.3],
  [5,2.9485,2.9535,6.8,6.35,6.3],[4,2.947,2.950,5.35,5.25,5.2],[7,2.950,2.9545,5.2,5.1,5.15],
  [9,2.957,2.9605,5.2,5.1,5.15],[2,2.958,2.963,6.8,6.75,7.0],[11,2.959,2.9645,6.9,7.1,7.45],
  [8,2.962,2.967,8.2,8.2,8.5],[2,2.9605,2.9645,5.35,5.45,5.6],[6,2.968,2.973,7.1,6.6,6.65],
  [4,2.968,2.974,9.3,8.9,8.8],[4,2.9725,2.978,8.95,8.6,8.1],[0,2.967,2.9725,5.3,5.2,5.25],
  [0,2.9735,2.977,5.2,5.1,5.1],[5,2.976,2.980,5.0,4.95,5.0],[8,2.981,2.9845,4.85,4.8,4.85],
  [6,2.9815,2.990,5.4,5.35,5.45],[10,2.987,2.992,5.4,5.1,5.1],[1,2.990,2.996,5.2,5.15,5.2],
  [5,2.9945,2.998,9.75,9.9,10.05],[2,2.999,3.004,9.9,9.4,9.1],[11,2.999,3.004,5.3,5.25,5.2],
  [3,3.004,3.0105,6.1,5.8,5.6],[1,3.0045,3.008,5.3,5.2,5.2],[4,3.004,3.009,8.2,7.9,8.1],
  [3,3.009,3.015,5.5,5.4,5.3],[5,3.013,3.0175,5.0,4.95,5.05],[7,3.0165,3.0215,5.2,5.15,5.3],
  [0,3.0215,3.027,8.1,7.8,7.95],[2,3.027,3.0335,7.7,7.3,7.1],[6,3.024,3.0275,5.5,5.45,5.5],
  [9,3.0225,3.027,5.25,5.2,5.25],[9,3.0285,3.032,5.4,5.2,5.1],[8,3.031,3.036,6.4,6.0,5.9],
  [0,3.032,3.036,5.8,5.5,5.6],[4,3.031,3.0345,5.15,5.0,4.95],[4,3.037,3.042,5.75,5.4,5.4],
  [0,3.0385,3.043,5.0,4.95,4.95],[5,3.043,3.047,4.9,4.95,4.95],[5,3.0445,3.0495,6.5,6.5,6.8],
  [10,3.0465,3.0505,6.8,7.0,7.4],[6,3.050,3.055,8.7,8.8,8.3]
];
const elevD = [
  [11,2.867,2.8705,79,78,75],[3,2.868,2.873,62,66,63],[3,2.872,2.879,53,56,53],
  [1,2.8745,2.878,79,86,83],[5,2.879,2.884,37,38.5,37],[9,2.884,2.889,37,36,34],
  [4,2.8875,2.8915,30,32,32],[5,2.883,2.888,44,47.5,47],[0,2.888,2.893,46,47,43],
  [3,2.882,2.887,58,62,60],[7,2.884,2.888,81,87,83],[9,2.889,2.894,75,81,78],
  [2,2.895,2.8985,84,91,85],[8,2.896,2.900,68,71.5,69],[2,2.902,2.908,46,50,49],
  [4,2.901,2.906,58,60,56],[11,2.9025,2.907,71,78,77],[5,2.9085,2.912,80,87,85],
  [2,2.907,2.914,35,35.5,34],[0,2.912,2.9165,35,36.5,36],[0,2.9055,2.910,76,79,81],
  [8,2.9155,2.9205,48,51,50],[7,2.917,2.9215,70,74,71],[6,2.919,2.923,66,71,70],
  [10,2.9225,2.9275,67,72,71],[1,2.9275,2.931,75,80,81],[10,2.9315,2.936,28,29.5,30],
  [1,2.9315,2.936,37,39,38],[11,2.9325,2.9365,72,76,75],[3,2.9365,2.9415,38,39,38],
  [11,2.942,2.948,37,38.5,38],[1,2.944,2.9495,39,41.5,42],[3,2.9385,2.9425,61,64,61],
  [5,2.940,2.9435,74,79,75],[5,2.9485,2.9535,49,53,54],[4,2.947,2.950,78,84,82],
  [7,2.950,2.9545,74,79,77],[9,2.957,2.9605,74,80,78],[2,2.958,2.963,49,51,47],
  [11,2.959,2.9645,44,46,44],[8,2.962,2.967,37,39,37],[2,2.9605,2.9645,70,74,72],
  [6,2.968,2.973,48,52,51],[4,2.968,2.974,34,35.5,35],[4,2.9725,2.978,35,36,36],
  [0,2.967,2.9725,78,86,81],[0,2.9735,2.977,82,89,83],[5,2.976,2.980,75,80,79],
  [8,2.981,2.9845,84,89,86],[6,2.9815,2.987,62,65,63],[6,2.987,2.992,62,66,63],
  [10,2.990,2.9935,72,78,81],[1,2.9935,2.996,82,90,88],[5,2.9945,2.998,31,31.5,31],
  [2,2.999,3.004,32,33,34],[11,2.999,3.004,78,85,82],[3,3.004,3.0105,58,61,61],
  [1,3.0045,3.008,79,84,81],[4,3.004,3.009,39,41,40],[3,3.009,3.015,66,70,69],
  [5,3.013,3.0175,79,84,80],[7,3.0165,3.0215,75,81,77],[9,3.0225,3.027,79,86,82],
  [6,3.024,3.0275,70,74,70],[0,3.0215,3.027,39,40.5,39],[2,3.027,3.0335,42,43.5,43],
  [9,3.0285,3.032,69,73,74],[4,3.0325,3.0345,80,86,89],[8,3.031,3.036,52,55,56],
  [0,3.032,3.036,59,62,62],[4,3.037,3.042,60,63,63],[0,3.0385,3.043,73,78,77],
  [5,3.0415,3.046,73,78,76],[5,3.0445,3.0495,47,49,48],[10,3.0465,3.0505,45,44,41],
  [6,3.050,3.055,36,36.5,38]
];

// axis domains and tick values
const xDomA = [3.11, 3.32],  xTickA = [3.15, 3.20, 3.25, 3.30], xGridA = [3.12,3.14,3.16,3.18,3.20,3.22,3.24,3.26,3.28,3.30];
const xDomB = [2.20, 2.425], xTickB = [2.20, 2.25, 2.30, 2.35, 2.40], xGridB = [2.25, 2.30, 2.35, 2.40];
const xDomC = [3.40, 3.67],  xTickC = [3.40, 3.45, 3.50, 3.55, 3.60, 3.65], xGridC = [3.45, 3.50, 3.55, 3.60, 3.65];
const xDomD = [2.85, 3.0744], xTickD = [2.85, 2.90, 2.95, 3.00, 3.05], xGridD = [2.88,2.91,2.94,2.97,3.00,3.03,3.06];
const yIono = { A: [-0.46, 6.0], B: [-0.22, 6.07], C: [-0.55, 5.0], D: [-0.43, 4.97] };
const yTro  = { A: [4, 10.57], B: [4, 10.51], C: [4, 11.0], D: [4, 11.53] };
const yElev = { A: [25.4, 94.6], B: [25.3, 95.6], C: [20, 95.4], D: [15.6, 100.4] };
const ionoTicks = { A: [0, 2, 4, 6], B: [0, 2, 4, 6], C: [0, 2, 4], D: [0, 2, 4] };
const troTicks = [4, 6, 8, 10];
const elevTicks = { A: [40, 60, 80], B: [40, 60, 80], C: [20, 40, 60, 80], D: [30, 60, 90] };
const titles = {
  A: ["delay and elevation angle of", "spaceborne A in 0333"],
  B: ["delay and elevation angle of", "spaceborne B in 0348"],
  C: ["delay and elevation angle of", "spaceborne A in 2048"],
  D: ["delay and elevation angle of", "spaceborne B in 2103"]
};

// ---------- layout ----------
const serif = "'Liberation Serif','Times New Roman',serif";
const sans = "'Liberation Sans',Arial,Helvetica,sans-serif";
const dashed = { stroke: "#777", dash: "4,3" };
const dotted = { stroke: "#aaa", dash: "1.5,1.5" };

const panels = [
  { id: "A", letter: [90, 44], legend: [170, 22, 462, 36], legendFont: sans, legendWeight: "normal",
    x0: 165, x1: 641, iono: [64, 158], tro: [181, 277], elev: [299, 394], yTitleX: 128, ionoTitleY: 99,
    ionoFont: sans, tickDx: 4, tickPad: 7, grid: [dashed, dashed, dashed], ionoGrid: xGridA, elevGrid: xTickA,
    xDom: xDomA, xTicks: xTickA, title: [410, 382, 508, 546], iono_d: ionoA, tro_d: troA, elev_d: elevA },
  { id: "B", letter: [697, 44], legend: [793, 22, 466, 38], legendFont: sans, legendWeight: "normal",
    x0: 787, x1: 1272, iono: [66, 158], tro: [186, 283], elev: [305, 402], yTitleX: 750, ionoTitleY: 101,
    ionoFont: sans, tickDx: 5, tickPad: 7, grid: [dotted, dotted, dashed], ionoGrid: xGridB, elevGrid: xGridB,
    xDom: xDomB, xTicks: xTickB, title: [1036, 1007, 510, 549], iono_d: ionoB, tro_d: troB, elev_d: elevB },
  { id: "C", letter: [90, 573], legend: [147, 586, 453, 36], legendFont: serif, legendWeight: "bold",
    x0: 133, x1: 607, iono: [627, 722], tro: [743, 838], elev: [859, 954], yTitleX: 96, ionoTitleY: 670,
    ionoFont: serif, tickDx: 10, tickPad: 4, grid: [dotted, dotted, dotted], ionoGrid: xGridC, elevGrid: xGridC,
    xDom: xDomC, xTicks: xTickC, title: [410, 382, 1062, 1099], iono_d: ionoC, tro_d: troC, elev_d: elevC },
  { id: "D", letter: [692, 587], legend: [779, 588, 472, 37], legendFont: sans, legendWeight: "normal",
    x0: 768, x1: 1256, iono: [630, 727], tro: [750, 848], elev: [871, 969], yTitleX: 726, ionoTitleY: 677,
    ionoFont: serif, tickDx: 9, tickPad: 5, grid: [dotted, dotted, dotted], ionoGrid: xGridD, elevGrid: [2.90, 2.95, 3.00, 3.05],
    xDom: xDomD, xTicks: xTickD, title: [1036, 1007, 1076, 1114], iono_d: ionoD, tro_d: troD, elev_d: elevD }
];

const svg = d3.select("#chart").append("svg")
  .attr("width", 1356).attr("height", 1234)
  .style("display", "block");
svg.append("rect").attr("width", 1356).attr("height", 1234).attr("fill", "#fff");
svg.append("rect").attr("x", 8.5).attr("y", 6.5).attr("width", 1344).attr("height", 1240)
  .attr("fill", "none").attr("stroke", "#b5b5b5").attr("stroke-width", 1);

const arcLine = d3.line().curve(d3.curveNatural);
const ionoLine = d3.line().curve(d3.curveCatmullRom);
let clipId = 0;

function drawSub(g, p, x, box, yDom, yTicks, xGrid, gstyle, kind, data, showLabels, titleText, titleY, tickFont) {
  const [top, bottom] = box;
  const y = d3.scaleLinear().domain(yDom).range([bottom, top]);
  const id = "clip" + (clipId++);
  g.append("clipPath").attr("id", id).append("rect")
    .attr("x", p.x0).attr("y", top).attr("width", p.x1 - p.x0).attr("height", bottom - top);

  // grid
  const grid = g.append("g").attr("stroke", gstyle.stroke).attr("stroke-dasharray", gstyle.dash)
    .attr("stroke-width", 0.9);
  grid.selectAll(".gx").data(xGrid).enter().append("line")
    .attr("x1", d => x(d)).attr("x2", d => x(d)).attr("y1", top).attr("y2", bottom);
  grid.selectAll(".gy").data(yTicks.filter(v => y(v) > top + 1)).enter().append("line")
    .attr("x1", p.x0).attr("x2", p.x1).attr("y1", d => y(d)).attr("y2", d => y(d));

  // data
  const dg = g.append("g").attr("clip-path", `url(#${id})`)
    .attr("fill", "none").attr("stroke-linecap", "round").attr("stroke-linejoin", "round");
  if (kind === "iono") {
    ionoLine.x(d => x(d[0])).y(d => y(d[1]));
    dg.selectAll("path").data(data).enter().append("path")
      .attr("d", d => ionoLine(d[1]))
      .attr("stroke", d => colors[d[0]]).attr("stroke-width", 5.2);
  } else {
    arcLine.x(d => x(d[0])).y(d => y(d[1]));
    dg.selectAll("path").data(data).enter().append("path")
      .attr("d", d => arcLine([[d[1], d[3]], [(d[1] + d[2]) / 2, d[4]], [d[2], d[5]]]))
      .attr("stroke", d => colors[d[0]]).attr("stroke-width", 3.8);
  }

  // ticks (inward)
  const bottomTicks = kind === "elev" ? p.elevGrid : xGrid;
  const bx = g.append("g").attr("transform", `translate(0,${bottom})`)
    .call(d3.axisBottom(x).tickValues(bottomTicks).tickSizeInner(-5).tickSizeOuter(0).tickFormat(""));
  bx.select(".domain").remove();
  bx.selectAll("line").attr("stroke", "#000").attr("stroke-width", 1.1);
  const ly = g.append("g").attr("transform", `translate(${p.x0},0)`)
    .call(d3.axisLeft(y).tickValues(yTicks).tickSizeInner(-5).tickSizeOuter(0).tickPadding(p.tickPad).tickFormat(d3.format("d")));
  ly.select(".domain").remove();
  ly.selectAll("line").attr("stroke", "#000").attr("stroke-width", 1.1);
  ly.selectAll("text").attr("font-family", tickFont).attr("font-size", 17.5).attr("fill", "#000");

  // box
  g.append("rect").attr("x", p.x0).attr("y", top).attr("width", p.x1 - p.x0).attr("height", bottom - top)
    .attr("fill", "none").attr("stroke", "#000").attr("stroke-width", 1.7);

  // y title
  g.append("text").attr("transform", `translate(${p.yTitleX},${titleY}) rotate(-90)`)
    .attr("text-anchor", "middle").attr("dy", "0.3em")
    .attr("font-family", serif).attr("font-size", 19.5).attr("fill", "#000")
    .text(titleText);

  if (showLabels) {
    const lx = g.append("g").attr("transform", `translate(0,${bottom})`)
      .call(d3.axisBottom(x).tickValues(p.xTicks).tickSize(0).tickPadding(11).tickFormat(d3.format(".2f")));
    lx.select(".domain").remove();
    lx.selectAll("text").attr("font-family", serif).attr("font-size", 17.5).attr("fill", "#000")
      .attr("dx", p.tickDx);
  }
}

function drawPanel(p) {
  const g = svg.append("g");
  const x = d3.scaleLinear().domain(p.xDom).range([p.x0, p.x1]);

  g.append("text").attr("x", p.letter[0]).attr("y", p.letter[1])
    .attr("font-family", sans).attr("font-weight", "bold").attr("font-size", 25).text(p.id);

  // legend
  const [lx, ly, lw, lh] = p.legend;
  const lg = g.append("g");
  lg.append("rect").attr("x", lx).attr("y", ly).attr("width", lw).attr("height", lh)
    .attr("fill", "#fff").attr("stroke", "#000").attr("stroke-width", 1.8);
  const colW = (lw - 10) / 10;
  const items = lg.selectAll(".it").data(prnLabels).enter().append("g")
    .attr("transform", (d, i) => `translate(${lx + 9 + (i % 10) * colW},${ly + lh * 0.25 + Math.floor(i / 10) * lh * 0.3})`);
  items.append("circle").attr("r", 1.5).attr("fill", (d, i) => colors[i % 12]);
  items.append("text").attr("x", 10).attr("dy", "0.35em")
    .attr("font-family", p.legendFont).attr("font-weight", p.legendWeight)
    .attr("font-size", p.legendWeight === "bold" ? 10 : 9.5).attr("fill", "#111").text(d => d);

  drawSub(g, p, x, p.iono, yIono[p.id], ionoTicks[p.id], p.ionoGrid, p.grid[0], "iono", p.iono_d,
    false, "iono_delay(m)", p.ionoTitleY, p.ionoFont);
  drawSub(g, p, x, p.tro, yTro[p.id], troTicks, p.ionoGrid, p.grid[1], "tro", p.tro_d,
    false, "tro_delay(m)", (p.tro[0] + p.tro[1]) / 2, serif);
  drawSub(g, p, x, p.elev, yElev[p.id], elevTicks[p.id], p.elevGrid, p.grid[2], "elev", p.elev_d,
    true, "elevation(°)", (p.elev[0] + p.elev[1]) / 2, serif);

  // x title and exponent
  const cx = (p.x0 + p.x1) / 2;
  g.append("text").attr("x", cx).attr("y", p.elev[1] + 43).attr("text-anchor", "middle")
    .attr("font-family", serif).attr("font-size", 20).text("SOW(s)");
  const ex = g.append("text").attr("x", p.x1 - 14).attr("y", p.elev[1] + 43).attr("text-anchor", "end")
    .attr("font-family", serif).attr("font-size", 15);
  ex.append("tspan").text("×10");
  ex.append("tspan").attr("dy", -7).attr("font-size", 10).text("5");

  // two-line title
  g.append("text").attr("x", p.title[0]).attr("y", p.title[2]).attr("text-anchor", "middle")
    .attr("font-family", serif).attr("font-size", 31).attr("textLength", 417).attr("lengthAdjust", "spacing")
    .text(titles[p.id][0]);
  g.append("text").attr("x", p.title[1]).attr("y", p.title[3]).attr("text-anchor", "middle")
    .attr("font-family", serif).attr("font-size", 31).attr("textLength", 316).attr("lengthAdjust", "spacing")
    .text(titles[p.id][1]);
}

panels.forEach(drawPanel);

// caption
const caption = [
  [["FIGURE 7 | ", true], ["Results of spaceborne experimental atmospheric delay: (numbers represent time, the subgraphs are ionospheric delay, tropospheric delay, and", false]],
  [["specular point elevation angle from top to bottom). Delay and elevation angle of ", false], ["(A)", true], [" spaceborne A in 0333, ", false], ["(B)", true], [" spaceborne B in 0348, ", false], ["(C)", true], [" spaceborne A in 2048, ", false], ["(D)", true]],
  [["spaceborne B in 2103.", false]]
];
const cap = svg.append("g").attr("font-family", sans).attr("font-size", 17.9).attr("fill", "#333");
caption.forEach((line, i) => {
  const t = cap.append("text").attr("x", 24).attr("y", 1172 + i * 25).attr("xml:space", "preserve");
  line.forEach(([s, b]) => {
    t.append("tspan").attr("font-weight", b ? "bold" : "normal").attr("fill", b ? "#111" : "#333").text(s);
  });
});
</script>
</body>
</html>
